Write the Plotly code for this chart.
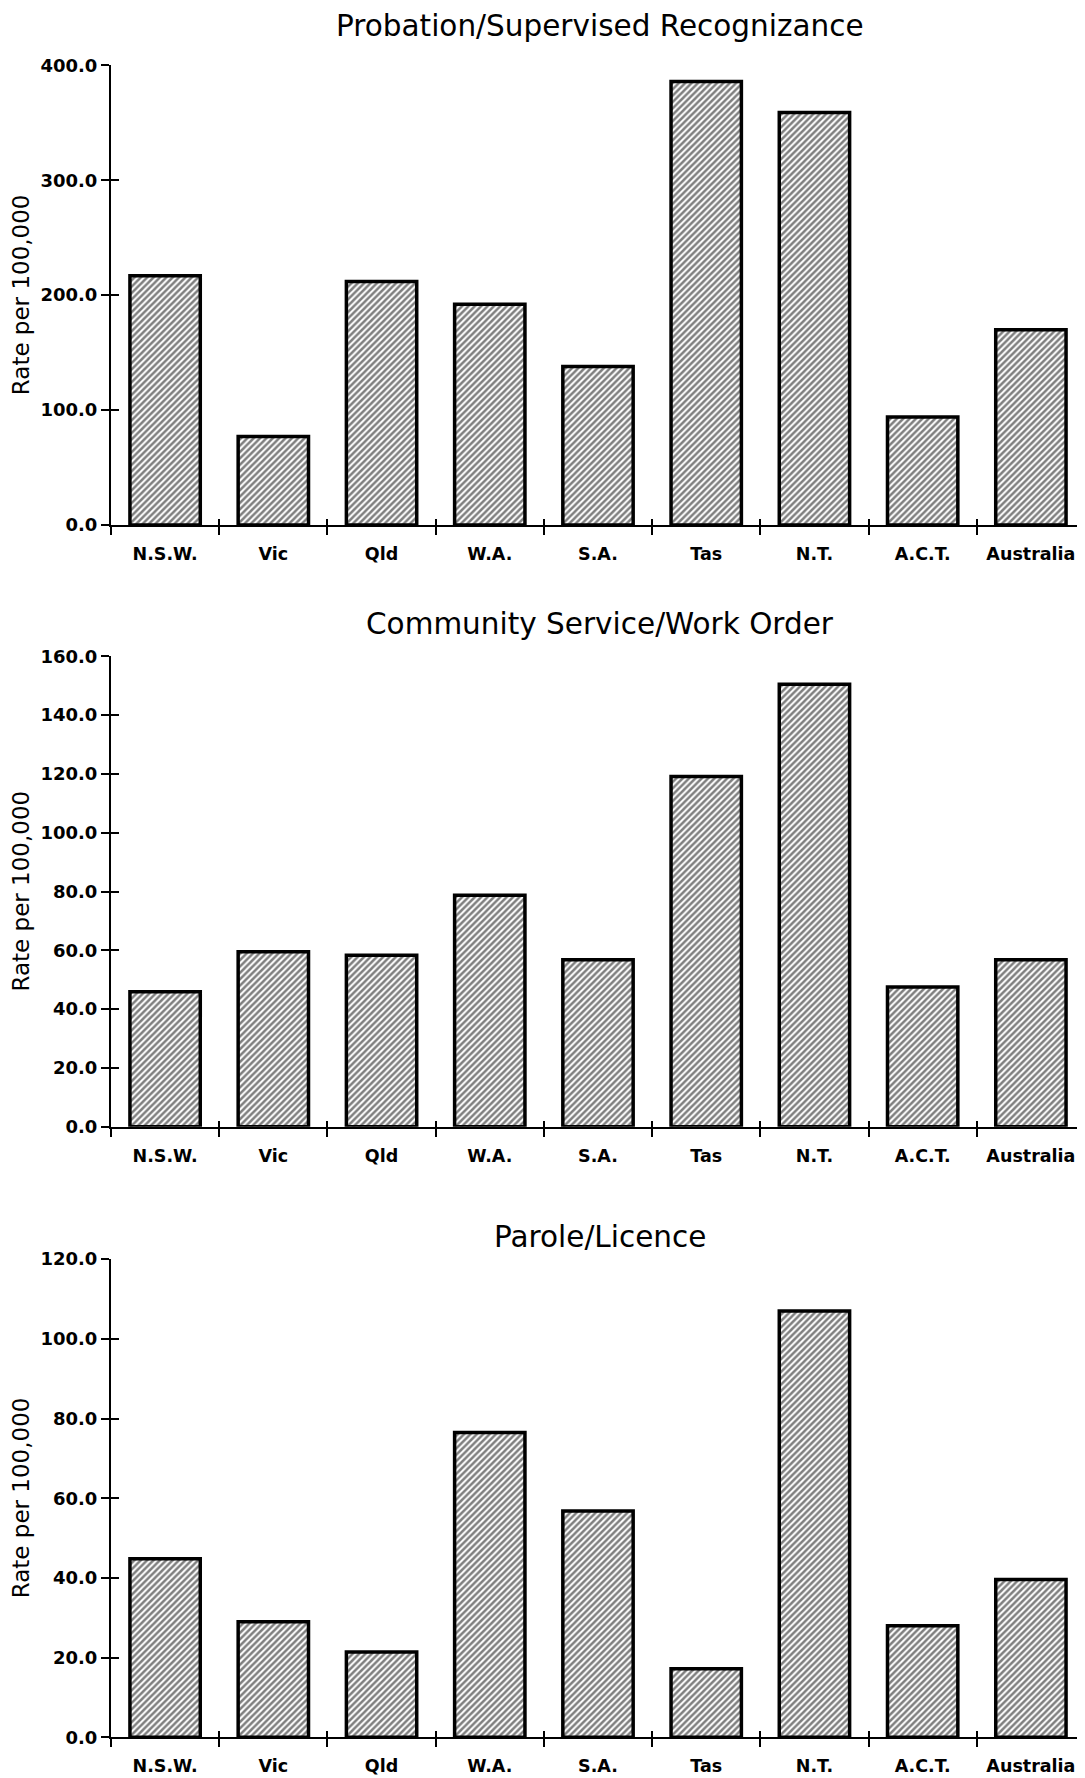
import plotly.graph_objects as go

# ---- data ----
categories = ["N.S.W.", "Vic", "Qld", "W.A.", "S.A.", "Tas", "N.T.", "A.C.T.", "Australia"]
probation = [217, 77, 212, 192, 138, 386, 359, 94, 170]
community = [45.9, 59.5, 58.3, 78.7, 56.8, 119.1, 150.5, 47.5, 56.8]
parole = [44.8, 29.0, 21.4, 76.5, 56.8, 17.2, 107.0, 28.0, 39.6]

panel_titles = ["Probation/Supervised Recognizance",
                "Community Service/Work Order",
                "Parole/Licence"]
series = [probation, community, parole]
y_max = [400, 160, 120]
y_step = [100, 20, 20]
y_title = "Rate per 100,000"

# ---- layout geometry ----
# the page body has an 8px default margin; positions below are page pixels
OFF = 8
W, H = 1085 - OFF, 1778 - OFF


def px_y(p):
    return 1 - (p - OFF) / H


def px_x(p):
    return (p - OFF) / W


x_dom = [px_x(111), 1.0]
y_doms = [[px_y(520), px_y(55)],
          [px_y(1129), px_y(653)],
          [px_y(1747), px_y(1263)]]
title_y = [15, 620, 1241]

fig = go.Figure()
tick_font = dict(family="DejaVu Sans", size=18, color="black", weight="bold")
cat_font = dict(family="DejaVu Sans", size=17.5, color="black", weight="bold")

for i in range(3):
    n = i + 1
    xa = "x" if n == 1 else f"x{n}"
    ya = "y" if n == 1 else f"y{n}"
    fig.add_trace(go.Bar(
        x=categories, y=series[i], xaxis=xa, yaxis=ya,
        marker=dict(color="white",
                    line=dict(color="black", width=3.5),
                    pattern=dict(shape="/", fgcolor="black", bgcolor="white",
                                 size=4.5, solidity=0.55)),
        showlegend=False, hoverinfo="x+y"))

    xkey = "xaxis" if n == 1 else f"xaxis{n}"
    ykey = "yaxis" if n == 1 else f"yaxis{n}"
    fig.layout[xkey] = dict(
        domain=x_dom, anchor=ya, type="category",
        categoryorder="array", categoryarray=categories,
        range=[-0.5, 8.5],
        showline=True, linecolor="black", linewidth=2,
        ticks="outside", tickson="boundaries", ticklen=8, tickwidth=2,
        tickcolor="black", showgrid=False, zeroline=False,
        tickfont=cat_font, ticklabelstandoff=12, fixedrange=True)
    fig.layout[ykey] = dict(
        domain=y_doms[i], anchor=xa, range=[0, y_max[i]],
        tick0=0, dtick=y_step[i], tickformat=".1f",
        showline=True, linecolor="black", linewidth=2,
        ticks="outside", ticklen=8, tickwidth=2, tickcolor="black",
        showgrid=False, zeroline=False, tickfont=tick_font, fixedrange=True)

    # overlay axes giving the inner half of the crossing ticks
    ox = f"xaxis{n + 3}"
    oy = f"yaxis{n + 3}"
    fig.layout[ox] = dict(
        domain=x_dom, anchor=ya, overlaying=xa, range=[-0.5, 8.5],
        tick0=0.5, dtick=1, ticks="inside", ticklen=6, tickwidth=2,
        tickcolor="black", showticklabels=False, showline=False,
        showgrid=False, zeroline=False, fixedrange=True)
    fig.layout[oy] = dict(
        domain=y_doms[i], anchor=xa, overlaying=ya, range=[0, y_max[i]],
        tick0=0, dtick=y_step[i], ticks="inside", ticklen=8, tickwidth=2,
        tickcolor="black", showticklabels=False, showline=False,
        showgrid=False, zeroline=False, fixedrange=True)
    fig.add_trace(go.Scatter(x=[None], y=[None], xaxis=f"x{n + 3}",
                             yaxis=f"y{n + 3}", showlegend=False,
                             hoverinfo="skip"))

    fig.add_annotation(text=panel_titles[i], xref="paper", yref="paper",
                       x=px_x(600), y=px_y(title_y[i]), showarrow=False,
                       xanchor="center", yanchor="middle",
                       font=dict(family="DejaVu Sans", size=29.5, color="black"))
    fig.add_annotation(text=y_title, xref="paper", yref="paper",
                       x=px_x(21), y=(y_doms[i][0] + y_doms[i][1]) / 2,
                       textangle=-90, showarrow=False,
                       xanchor="center", yanchor="middle",
                       font=dict(family="DejaVu Sans", size=23, color="black"))

fig.update_layout(width=W, height=H, margin=dict(l=0, r=0, t=0, b=0),
                  paper_bgcolor="white", plot_bgcolor="white",
                  bargap=0.35)

fig.write_html("out.html")
